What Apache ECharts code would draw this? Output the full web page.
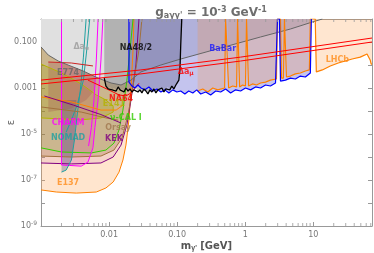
<!DOCTYPE html>
<html><head><meta charset="utf-8">
<script src="https://cdn.jsdelivr.net/npm/echarts@6/dist/echarts.min.js"></script>
<style>html,body{margin:0;padding:0;background:#fff}#c{width:374px;height:253px}</style>
</head><body><div id="c"></div>
<script>
// ---- axis ranges & ticks ----
const X_MIN = 0.001, X_MAX = 73, Y_MIN = 1e-9, Y_MAX = 1;
const xMinorTicks = [0.002,0.003,0.004,0.005,0.006,0.007,0.008,0.009,0.02,0.03,0.04,0.05,0.06,0.07,0.08,0.09,0.2,0.3,0.4,0.5,0.6,0.7,0.8,0.9,2,3,4,5,6,7,8,9,20,30,40,50,60,70];

// ---- exclusion boundaries [mass GeV, epsilon] ----
const daeBound = [[0.001,0.061],[0.00128,0.027],[0.00179,0.0149],[0.0025,0.01],[0.00416,0.0055],[0.0069,0.0027],[0.0107,0.00165],[0.015,0.00135],[0.021,0.0022],[0.0294,0.005],[0.0577,0.01],[0.113,0.0182],[0.436,0.055],[1.68,0.165],[4.62,0.367],[9.7,0.74],[13.6,1]];
const e137 = [[0.001,1],[0.001,3.7e-8],[0.00168,3e-8],[0.0033,2.7e-8],[0.0065,3e-8],[0.009,4.5e-8],[0.0115,8.2e-8],[0.014,2.2e-7],[0.016,7.4e-7],[0.0177,3.3e-6],[0.0196,4.1e-5],[0.021,0.00083],[0.0225,0.045],[0.0232,1]];
const kek = [[0.001,1],[0.001,5.5e-7],[0.0028,5e-7],[0.0076,5.5e-7],[0.0115,1e-6],[0.015,3.3e-6],[0.0183,2.5e-5],[0.021,0.0003],[0.0248,0.01],[0.0275,1]];
const orsay = [[0.001,1],[0.001,1.1e-6],[0.0028,1e-6],[0.0076,1.1e-6],[0.0118,2e-6],[0.0155,6.7e-6],[0.019,6.7e-5],[0.0225,0.0012],[0.0275,0.045],[0.0304,1]];
const nucal = [[0.001,1],[0.001,2.5e-6],[0.002,1.65e-6],[0.0055,1.5e-6],[0.009,2e-6],[0.0118,4e-6],[0.014,1.5e-5],[0.016,1.1e-4],[0.0183,0.0022],[0.021,0.122],[0.0225,1]];
const e141 = [[0.001,0.011],[0.002,0.0045],[0.0039,0.0015],[0.0065,0.0005],[0.009,0.0003],[0.0115,0.00016],[0.0115,9e-5],[0.0076,5e-5],[0.0039,4.1e-5],[0.001,5e-5]];
const charm = [[0.002,1],[0.002,4.5e-7],[0.0039,4e-7],[0.0049,6e-7],[0.0058,2.5e-6],[0.0062,1.9e-5],[0.0069,0.0003],[0.0076,0.0166],[0.0081,1]];
const charmEdgeB = [[0.0069,1],[0.0065,0.0166],[0.006,0.0003],[0.0055,1.9e-5],[0.005,3e-6]];
const nomad = [[0.002,0.0003],[0.002,2.2e-7],[0.00234,2.7e-7],[0.0028,7.4e-7],[0.0031,5.5e-6],[0.0033,6.7e-5],[0.0033,0.0003]];
const nomadEdgeA = [[0.002,2.2e-7],[0.00234,2.7e-7],[0.0028,7.4e-7],[0.0031,5.5e-6],[0.0034,6.7e-5],[0.0038,0.0009],[0.0042,0.022],[0.0046,1]];
const nomadEdgeB = [[0.0052,1],[0.0047,0.045],[0.0042,0.0022],[0.0034,0.00018],[0.0028,4.1e-5],[0.00234,1.2e-5]];
const e774 = [[0.00128,0.0135],[0.0028,0.0122],[0.0058,0.0091],[0.0065,0.0037],[0.0062,0.00082],[0.0046,0.0003],[0.0028,0.00013],[0.00128,9e-5]];
const na64 = [[0.0049,0.0022],[0.0076,0.0012],[0.0107,0.00074],[0.014,0.0005],[0.0177,0.00045],[0.021,0.00061],[0.0248,0.0011],[0.0275,0.0016]];
const extraOrange = [[0.001,0.00041],[0.0028,0.00025],[0.0076,0.00011],[0.0127,0.00011],[0.016,0.00018]];
const extraBrown = [[0.001,0.00015],[0.0039,9e-5],[0.009,5e-5],[0.0136,4e-5]];
const extraPurple = [[0.00112,0.00045],[0.003,0.00018],[0.0076,7e-5],[0.015,3e-5]];
const na48 = [[0.0085,1],[0.0085,0.0027],[0.009,0.0012],[0.0097,0.00091],[0.0103,0.0011],[0.0111,0.00083],[0.0118,0.001],[0.0127,0.00074],[0.0136,0.00111],[0.0145,0.00083],[0.0155,0.00091],[0.0166,0.00067],[0.0177,0.001],[0.019,0.00074],[0.0203,0.00091],[0.0217,0.00067],[0.0232,0.00083],[0.0248,0.001],[0.0266,0.00067],[0.0284,0.00083],[0.0304,0.00061],[0.0325,0.00091],[0.0348,0.00074],[0.0372,0.00055],[0.0398,0.00083],[0.0426,0.00067],[0.0456,0.00091],[0.0488,0.00061],[0.0522,0.00083],[0.0558,0.00074],[0.0597,0.001],[0.0639,0.00067],[0.0684,0.00091],[0.0731,0.00111],[0.0782,0.00083],[0.0836,0.00122],[0.0895,0.00091],[0.0958,0.00135],[0.1024,0.0015],[0.106,0.0022],[0.11,0.0061],[0.113,0.074],[0.117,1]];
const babar = [[0.0196,1],[0.0196,0.0018],[0.0217,0.00122],[0.024,0.001],[0.0266,0.00135],[0.0294,0.001],[0.0336,0.00083],[0.0385,0.00111],[0.0441,0.00074],[0.0505,0.00091],[0.0577,0.00067],[0.0661,0.00083],[0.0756,0.00061],[0.0865,0.00083],[0.099,0.00067],[0.113,0.00074],[0.13,0.00055],[0.148,0.00074],[0.17,0.00061],[0.194,0.00083],[0.222,0.00055],[0.263,0.00067],[0.311,0.0005],[0.369,0.00074],[0.436,0.00067],[0.516,0.00091],[0.611,0.00061],[0.724,0.00083],[0.857,0.00074],[1.01,0.001],[1.2,0.00083],[1.42,0.00111],[1.68,0.001],[1.99,0.00135],[2.35,0.00122],[2.79,0.00165],[2.98,1],[3.19,1],[3.3,0.002],[3.9,0.0022],[4.62,0.0027],[5.47,0.00246],[6.47,0.0033],[7.66,0.003],[9.07,0.0045],[9.38,1]];
const lhcb = [[0.2,1],[0.2,0.00074],[0.238,0.00091],[0.282,0.00067],[0.334,0.001],[0.395,0.00083],[0.499,0.001],[0.516,1],[0.552,1],[0.571,0.001],[0.654,0.00122],[0.748,0.00111],[0.774,1],[0.8,1],[0.828,0.00111],[0.916,0.00135],[1.01,0.00122],[1.048,1],[1.08,1],[1.12,0.00122],[1.28,0.0015],[1.47,0.00135],[1.68,0.00165],[1.99,0.0018],[2.35,0.0022],[2.88,0.00246],[2.98,1],[3.3,1],[3.41,0.0027],[3.65,0.0027],[3.78,1],[3.9,1],[4.04,0.003],[4.62,0.0033],[5.47,0.0041],[6.47,0.0045],[7.66,0.0055],[8.77,0.0061],[9.07,1],[10.7,1],[11.1,0.005],[13.6,0.0061],[17.8,0.0091],[23.3,0.0122],[29.5,0.0149],[37.3,0.0182],[49,0.022],[61.7,0.03],[68.6,0.0166],[71,0.011],[73,0.011],[73,1]];
const damuUpper = [[0.001,0.0022],[0.0294,0.0061],[0.857,0.022],[73,0.149]];
const damuLower = [[0.001,0.0015],[0.0294,0.0041],[0.857,0.0149],[73,0.1]];

// ---- region labels [text, mass, epsilon] ----
const labelTexts = ['{a|Δa}{s|e}','E774','NA48/2','BaBar','LHCb','{a|Δa}{s|μ}','NA64','E141','ν-CAL I','CHARM','Orsay','NOMAD','KEK','E137'];
const labelPos = [[0.0039,0.061],[0.0025,0.0045],[0.0248,0.055],[0.467,0.05],[22.6,0.0166],[0.134,0.005],[0.015,0.00033],[0.0118,0.0002],[0.0177,5e-5],[0.0025,2.9e-5],[0.0136,1.8e-5],[0.0025,6.7e-6],[0.0118,6e-6],[0.0025,7.4e-8]];
const labelColors = ['#9a9a9a','#666666','#000000','#1a1aff','#ff8c1a','#ff0000','#ff0000','#b3b300','#33cc00','#ff00ff','#a07850','#20a0a0','#800080','#ff8c1a'];

const chart = echarts.init(document.getElementById('c'), null, {renderer:'canvas'});

function polyFill(pts, fill, z){
  return {type:'custom', coordinateSystem:'cartesian2d', data: pts, z: z, silent:true, animation:false,
    renderItem: function(params, api){
      if (params.dataIndex !== 0) return null;
      return {type:'polygon', shape:{points: pts.map(p => api.coord(p))}, style:{fill: fill, stroke:'none'}};
    }};
}
function polyLine(pts, color, w, z){
  return {type:'line', data: pts, showSymbol:false, symbol:'none', z: z, silent:true, animation:false,
    lineStyle:{color: color, width: w}};
}

const series = [];
const regions = [
  [e137,  'rgba(255,160,80,0.28)', '#ff8000'],
  [kek,   'rgba(128,0,128,0.08)', '#800080'],
  [orsay, 'rgba(150,105,55,0.28)', '#a0703c'],
  [nucal, 'rgba(60,190,0,0.10)', '#33cc00'],
  [e141,  'rgba(160,160,0,0.25)', '#b3b300'],
  [charm, 'rgba(230,0,180,0.13)', '#ff00ff'],
  [nomad, 'rgba(70,90,130,0.35)', null],
  [e774,  'rgba(160,80,80,0.28)', null]
];
regions.forEach((r,i) => series.push(polyFill(r[0], r[1], 1+i)));
series.push(polyFill(daeBound.concat([[X_MIN,Y_MAX]]), '#e0e0e0', 10));
series.push(polyFill(na48, 'rgba(110,110,110,0.4)', 11));
series.push(polyFill(babar, 'rgba(100,100,210,0.38)', 12));
series.push(polyFill(lhcb, 'rgba(255,140,40,0.22)', 13));
regions.forEach((r,i) => { if (r[2]) series.push(polyLine(r[0].slice(r[0][0][0] === X_MIN && r[0][0][1] === Y_MAX ? 1 : 0), r[2], 1, 20)); });
series.push(polyLine(charmEdgeB, '#ff00ff', 1, 20));
series.push(polyLine(nomadEdgeA, '#20a0a0', 1, 20));
series.push(polyLine(nomadEdgeB, '#20a0a0', 1, 20));
series.push(polyLine(e774.slice(0,3), '#cc2222', 1, 20));
series.push(polyLine(daeBound, '#666666', 1, 21));
series.push(polyLine(extraOrange, '#ff8000', 1, 20));
series.push(polyLine(extraBrown, '#a0703c', 1, 20));
series.push(polyLine(extraPurple, '#800080', 1, 20));
series.push(polyLine(na64, '#ff0000', 1, 21));
series.push(polyLine(lhcb.slice(1, -1), '#ff8000', 1.2, 22));
series.push(polyLine(babar, '#0000ff', 1.2, 23));
series.push(polyLine(na48.slice(1), '#000000', 1.3, 24));
series.push(polyLine(damuUpper, '#ff0000', 1, 25));
series.push(polyLine(damuLower, '#ff0000', 1, 25));
series.push({type:'scatter', data: xMinorTicks.map(v => [v, Y_MIN]), symbol:'rect', symbolSize:[1,3], symbolOffset:[0,-1.5], itemStyle:{color:'#999'}, z: 30, silent:true, animation:false});
series.push({type:'scatter', data: xMinorTicks.map(v => [v, Y_MAX]), symbol:'rect', symbolSize:[1,3], symbolOffset:[0,1.5], itemStyle:{color:'#999'}, z: 30, silent:true, animation:false});
series.push({type:'scatter', symbolSize:0, z: 40, silent:true, animation:false,
  data: labelPos.map((p,i) => ({value:p, label:{show:true, position:'inside', formatter: labelTexts[i], color: labelColors[i], fontSize:8, fontWeight:'bold', fontFamily:'DejaVu Sans',
    rich:{a:{color: labelColors[i], fontSize:8, fontWeight:'bold'}, s:{color: labelColors[i], fontSize:6, fontWeight:'bold', verticalAlign:'bottom', padding:[4,0,0,0]}}}}))
});

const axisCommon = {
  axisLine:{show:true, onZero:false, lineStyle:{color:'#999'}},
  axisTick:{show:true, inside:true, length:4, lineStyle:{color:'#999'}},
  splitLine:{show:false}
};
chart.setOption({
  animation:false,
  title:{text:'{b|g}{sub|aγγ\'}{b| = 10}{sup|-3}{b| GeV}{sup|-1}', left:206, top:1, textAlign:'center',
    textStyle:{rich:{
      b:{fontSize:12, fontWeight:'bold', color:'#6e6e6e', fontFamily:'DejaVu Sans'},
      sub:{fontSize:8, fontWeight:'bold', color:'#6e6e6e', fontFamily:'DejaVu Sans', padding:[6,0,0,0]},
      sup:{fontSize:8, fontWeight:'bold', color:'#6e6e6e', fontFamily:'DejaVu Sans', padding:[0,0,6,0]}}}},
  grid:{left:41, right:2, top:19, bottom:27, containLabel:false, outerBoundsMode:'none'},
  xAxis:[
    Object.assign({type:'log', min:X_MIN, max:X_MAX, position:'bottom', name:'{b|m}{s|γ\'}{b| [GeV]}', nameLocation:'middle', nameGap:14, nameMoveOverlap:false,
      nameTextStyle:{rich:{b:{fontSize:10, fontWeight:'bold', color:'#555', fontFamily:'DejaVu Sans'}, s:{fontSize:7, fontWeight:'bold', color:'#555', padding:[5,0,0,0]}}},
      axisLabel:{fontSize:8, color:'#777', margin:5, fontFamily:'DejaVu Sans', formatter: v => {
        const e = Math.round(Math.log10(v));
        return e===-2?'0.01': e===-1?'0.10': e===0?'1': e===1?'10':'';}}}, axisCommon),
    Object.assign({type:'log', min:X_MIN, max:X_MAX, position:'top', axisLabel:{show:false}}, axisCommon)
  ],
  yAxis:[
    Object.assign({type:'log', min:Y_MIN, max:Y_MAX, position:'left', name:'ε', nameLocation:'middle', nameGap:25, nameMoveOverlap:false,
      nameTextStyle:{fontSize:10, color:'#666', fontFamily:'DejaVu Sans'},
      axisLabel:{fontSize:8, color:'#777', margin:4, fontFamily:'DejaVu Sans', formatter: v => {
        const e = Math.round(Math.log10(v));
        if (e % 2 === 0) return '';
        if (e === -1) return '0.100';
        if (e === -3) return '0.001';
        return '10{s|' + e + '}';}, rich:{s:{fontSize:6, color:'#777', padding:[0,0,6,0]}}}}, axisCommon),
    Object.assign({type:'log', min:Y_MIN, max:Y_MAX, position:'right', axisLabel:{show:false}}, axisCommon)
  ],
  series: series
});
</script>
</body></html>
